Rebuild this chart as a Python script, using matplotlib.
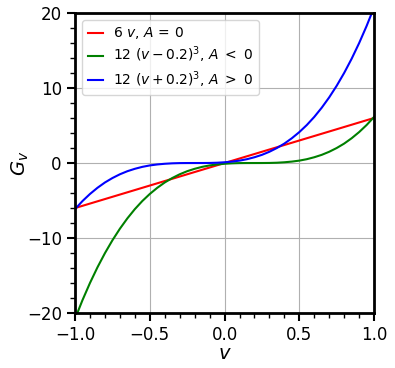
import numpy as np
import matplotlib
matplotlib.use("Agg")
import matplotlib.pyplot as plt
from matplotlib.ticker import MultipleLocator

# sample positions along v
v = np.linspace(-1.0, 1.0, 41)

# values
g_red = [-6.0, -5.7, -5.4, -5.1, -4.8, -4.5, -4.2, -3.9, -3.6, -3.3, -3.0,
         -2.7, -2.4, -2.1, -1.8, -1.5, -1.2, -0.9, -0.6, -0.3, 0.0,
         0.3, 0.6, 0.9, 1.2, 1.5, 1.8, 2.1, 2.4, 2.7, 3.0,
         3.3, 3.6, 3.9, 4.2, 4.5, 4.8, 5.1, 5.4, 5.7, 6.0]
g_green = [-20.74, -18.25, -15.97, -13.89, -12.0, -10.29, -8.75, -7.37, -6.14, -5.06, -4.12,
           -3.30, -2.59, -2.00, -1.50, -1.09, -0.77, -0.51, -0.32, -0.19, -0.10,
           -0.04, -0.01, -0.002, 0.0, 0.002, 0.01, 0.04, 0.10, 0.19, 0.32,
           0.51, 0.77, 1.09, 1.50, 2.00, 2.59, 3.30, 4.12, 5.06, 6.14]
g_blue = [-6.14, -5.06, -4.12, -3.30, -2.59, -2.00, -1.50, -1.09, -0.77, -0.51, -0.32,
          -0.19, -0.10, -0.04, -0.01, -0.002, 0.0, 0.002, 0.01, 0.04, 0.10,
          0.19, 0.32, 0.51, 0.77, 1.09, 1.50, 2.00, 2.59, 3.30, 4.12,
          5.06, 6.14, 7.37, 8.75, 10.29, 12.0, 13.89, 15.97, 18.25, 20.74]

labels = [r'$6\ v$, $A\, =\, 0$',
          r'$12\ (v - 0.2)^3$, $A\ <\ 0$',
          r'$12\ (v + 0.2)^3$, $A\ >\ 0$']

fig = plt.figure(figsize=(3.95, 3.68), dpi=100)
ax = fig.add_axes([0.19, 0.149, 0.757, 0.816])

ax.plot(v, g_red, color='red', lw=1.5, label=labels[0])
ax.plot(v, g_green, color='green', lw=1.5, label=labels[1])
ax.plot(v, g_blue, color='blue', lw=1.5, label=labels[2])

ax.set_xlim(-1, 1)
ax.set_ylim(-20, 20)
ax.xaxis.set_major_locator(MultipleLocator(0.5))
ax.xaxis.set_minor_locator(MultipleLocator(0.1))
ax.yaxis.set_major_locator(MultipleLocator(10))
ax.yaxis.set_minor_locator(MultipleLocator(2))
ax.grid(True, which='major', color='#b0b0b0', lw=0.8)

for s in ax.spines.values():
    s.set_linewidth(2)
ax.tick_params(which='major', length=6, width=1.5, labelsize=12)
ax.tick_params(which='minor', length=3.5, width=1)

ax.set_xlabel(r'$v$', fontsize=14, labelpad=0)
ax.set_ylabel(r'$G_v$', fontsize=14, labelpad=-3)
ax.legend(loc='upper left', fontsize=10, handlelength=1.1,
          handletextpad=0.7, labelspacing=0.25)

fig.savefig('out.png', dpi=100)
